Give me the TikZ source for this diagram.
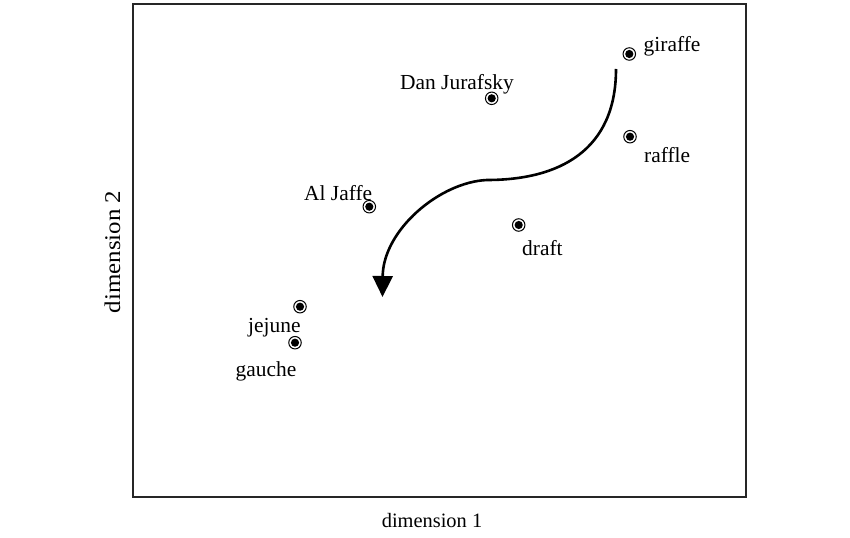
\documentclass[tikz,border=0pt]{standalone}
\usepackage{fontspec}
\setmainfont{Liberation Serif}
\usetikzlibrary{arrows.meta}
\begin{document}
\begin{tikzpicture}[x=1bp,y=-1bp,
  pt/.style={circle,draw=black,line width=1bp,fill=white,minimum size=12.5bp,inner sep=0pt,
    path picture={\fill[black] (path picture bounding box.center) circle[radius=4.1bp];}},
  lbl/.style={anchor=base west,inner sep=0pt,font=\fontsize{21.5}{25}\selectfont},
  axlbl/.style={anchor=base,inner sep=0pt,font=\fontsize{20.5}{24}\selectfont}]
\useasboundingbox (0,0) rectangle (850,538);
\draw[line width=1.5bp,black!85] (133,4) rectangle (746,497);
% points
\node[pt] (giraffe) at (629.3,54) {};
\node[pt] (dan) at (491.7,98.3) {};
\node[pt] (raffle) at (630,136.7) {};
\node[pt] (draft) at (518.7,225) {};
\node[pt] (jaffe) at (369.3,206.7) {};
\node[pt] (jejune) at (300,306.7) {};
\node[pt] (gauche) at (295,342.7) {};
% labels
\node[lbl] (lgiraffe) at (643.5,51.7) {giraffe};
\node[lbl] (ldan) at (400,89.3) {Dan Jurafsky};
\node[lbl] (lraffle) at (644,162.7) {raffle};
\node[lbl] (ldraft) at (522,256) {draft};
\node[lbl] (ljaffe) at (304,200.7) {Al Jaffe};
\node[lbl] (ljejune) at (248,333) {jejune};
\node[lbl] (lgauche) at (235.5,376.7) {gauche};
% axis labels
\node[axlbl] (xlab) at (432,527) {dimension 1};
\node[axlbl,rotate=90] (ylab) at (120,252) {\scalebox{1.22}[1.1]{dimension 2}};
% arrow
\coordinate (s) at (616,69);
\coordinate (m) at (487,180);
\coordinate (e) at (382.5,297);
\draw[line width=2.6bp,-{Triangle[length=21bp,width=20bp]}]
  (s) .. controls (616,150) and (560,180) .. (m)
      .. controls (440,182) and (383,230) .. (e);
\end{tikzpicture}
\end{document}
